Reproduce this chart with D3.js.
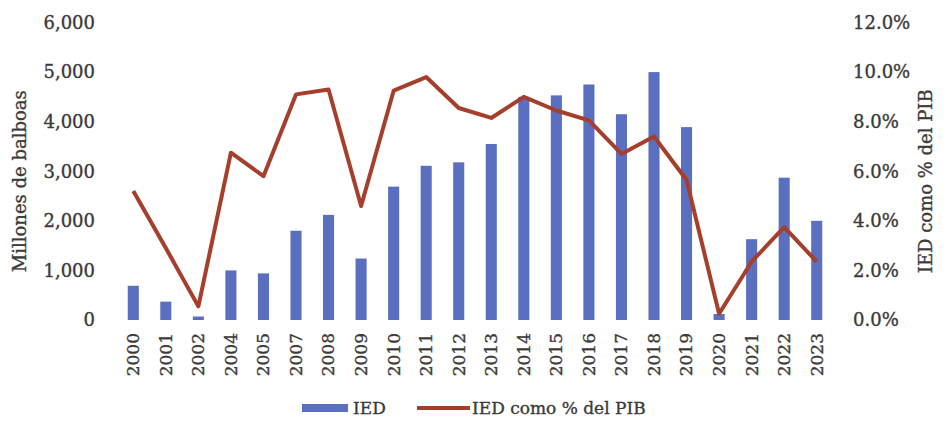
<!DOCTYPE html>
<html>
<head>
<meta charset="utf-8">
<script src="https://cdn.jsdelivr.net/npm/d3@7"></script>
<style>
	body { margin: 0; background: #fff; }
	/* slightly heavier text, the reference looks semi-bold */
	text { font-family: 'DejaVu Serif', serif; fill: #3a3a3a; stroke: #3a3a3a; stroke-width: 0.35px; }
</style>
</head>
<body>
<div id="chart"></div>
<script>
// ********** IED CHART **********

// Data
const years = ['2000', '2001', '2002', '2004', '2005', '2007', '2008', '2009', '2010', '2011', '2012',
	'2013', '2014', '2015', '2016', '2017', '2018', '2019', '2020', '2021', '2022', '2023'];

// IED, millones de balboas
const ied = [690, 370, 70, 1000, 940, 1800, 2120, 1240, 2690, 3110, 3180,
	3550, 4500, 4530, 4750, 4150, 5000, 3890, 120, 1630, 2870, 2000];

// IED como % del PIB
const iedPib = [5.2, 2.9, 0.55, 6.75, 5.8, 9.1, 9.3, 4.6, 9.25, 9.8, 8.55,
	8.15, 9.0, 8.45, 8.05, 6.7, 7.4, 5.65, 0.25, 2.35, 3.75, 2.35];

const leftTicks = [0, 1000, 2000, 3000, 4000, 5000, 6000];
const rightTicks = [0, 2, 4, 6, 8, 10, 12];

const legendLabels = ['IED', 'IED como % del PIB'];

const width = 948,
	  height = 430;

const barColor = '#5a6fc0',
	  lineColor = '#a63e2c';

// Plot box
const plot = { left: 117, right: 833, top: 22.5, bottom: 320 };

const svg = d3.select('#chart')
	.append('svg')
	.attr('width', width)
	.attr('height', height);

// Scales
const x = d3.scaleBand()
	.domain(years)
	.range([plot.left, plot.right])
	.paddingInner(0.66)
	.paddingOuter(0.33);

const yLeft = d3.scaleLinear()
	.domain([0, 6000])
	.range([plot.bottom, plot.top]);

const yRight = d3.scaleLinear()
	.domain([0, 12])
	.range([plot.bottom, plot.top]);

// Left axis (labels only)
const leftAxis = svg.append('g')
	.attr('transform', `translate(${plot.left - 22}, 0)`)
	.call(d3.axisLeft(yLeft)
		.tickValues(leftTicks)
		.tickSize(0)
		.tickPadding(0)
		.tickFormat(d3.format(',')));
leftAxis.select('.domain').remove();
leftAxis.selectAll('text')
	.attr('font-size', 18)
	.attr('font-family', null)
	.attr('fill', null);

// Right axis (labels only)
const rightAxis = svg.append('g')
	.attr('transform', `translate(${plot.right + 20}, 0)`)
	.call(d3.axisRight(yRight)
		.tickValues(rightTicks)
		.tickSize(0)
		.tickPadding(0)
		.tickFormat(d => d.toFixed(1) + '%'));
rightAxis.select('.domain').remove();
rightAxis.selectAll('text')
	.attr('font-size', 18)
	.attr('font-family', null)
	.attr('fill', null);

// Bottom axis, rotated years
const bottomAxis = svg.append('g')
	.attr('transform', `translate(0, ${plot.bottom})`)
	.call(d3.axisBottom(x).tickSize(0).tickPadding(0));
bottomAxis.select('.domain').remove();
bottomAxis.selectAll('text')
	.attr('font-size', 17)
	.attr('font-family', null)
	.attr('fill', null)
	.attr('text-anchor', 'end')
	.attr('transform', 'translate(0, 13) rotate(-90)')
	.attr('x', 0)
	.attr('y', 0)
	.attr('dy', '0.35em');

// Bars
svg.append('g')
	.selectAll('rect.bar')
	.data(ied)
	.enter()
	.append('rect')
	.attr('class', 'bar')
	.attr('x', (d, i) => x(years[i]))
	.attr('y', d => yLeft(d))
	.attr('width', x.bandwidth())
	.attr('height', d => yLeft(0) - yLeft(d))
	.attr('fill', barColor);

// Line
const line = d3.line()
	.x((d, i) => x(years[i]) + x.bandwidth() / 2)
	.y(d => yRight(d));

svg.append('path')
	.datum(iedPib)
	.attr('d', line)
	.attr('fill', 'none')
	.attr('stroke', lineColor)
	.attr('stroke-width', 4)
	.attr('stroke-linejoin', 'round');

// Axis titles
svg.append('text')
	.attr('transform', `translate(26, ${(plot.top + plot.bottom) / 2 + 10}) rotate(-90)`)
	.attr('text-anchor', 'middle')
	.attr('font-size', 18)
	.text('Millones de balboas');

svg.append('text')
	.attr('transform', `translate(932, ${(plot.top + plot.bottom) / 2 + 10}) rotate(-90)`)
	.attr('text-anchor', 'middle')
	.attr('font-size', 18)
	.text('IED como % del PIB');

// Legend
const legend = svg.append('g')
	.attr('transform', 'translate(302, 408)');

legend.append('rect')
	.attr('x', 0)
	.attr('y', -4)
	.attr('width', 46)
	.attr('height', 8)
	.attr('fill', barColor);

legend.append('text')
	.attr('x', 51)
	.attr('y', 0)
	.attr('dy', '0.35em')
	.attr('font-size', 17)
	.text(legendLabels[0]);

legend.append('line')
	.attr('x1', 115)
	.attr('x2', 168)
	.attr('y1', 0)
	.attr('y2', 0)
	.attr('stroke', lineColor)
	.attr('stroke-width', 4);

legend.append('text')
	.attr('x', 170)
	.attr('y', 0)
	.attr('dy', '0.35em')
	.attr('font-size', 17)
	.text(legendLabels[1]);
</script>
</body>
</html>
